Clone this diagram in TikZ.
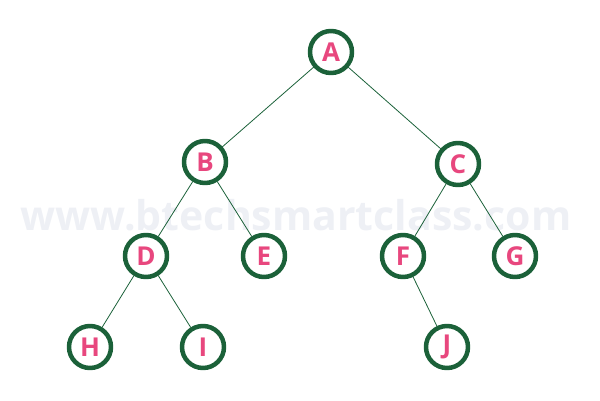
\documentclass[tikz,border=0pt]{standalone}
\usepackage{fontspec}
\setmainfont{Open Sans}
\definecolor{treegreen}{HTML}{1B6139}
\definecolor{treepink}{HTML}{E8477E}
\definecolor{markgray}{HTML}{EEF0F5}
\begin{document}
\begin{tikzpicture}[x=1pt,y=-1pt,line join = round, line cap = round,
		vertex/.style={circle,draw=treegreen,line width=4.5pt,minimum size=42pt,inner sep=0pt,fill=white,text=treepink,font=\fontsize{26}{26}\selectfont\bfseries},
		edge/.style={draw=treegreen,line width=0.8pt}]
			\useasboundingbox (0,0) rectangle (600,400);
			\node[text=markgray,font=\fontsize{41}{41}\selectfont\bfseries] (mark) at (296,215) {www.btechsmartclass.com};
			\node[vertex] (A) at (331,52) {A};
			\node[vertex] (B) at (205,162) {B};
			\node[vertex] (C) at (458,164) {C};
			\node[vertex] (D) at (146,256) {D};
			\node[vertex] (E) at (264,256) {E};
			\node[vertex] (F) at (403,256) {F};
			\node[vertex] (G) at (515,256) {G};
			\node[vertex] (H) at (90,347) {H};
			\node[vertex] (I) at (203,347) {I};
			\node[vertex] (J) at (447,347) {J};
			\foreach \a/\b in {A/B,A/C,B/D,B/E,C/F,C/G,D/H,D/I,F/J}
			{
				\draw[edge] (\a) -- (\b);
			}
		\end{tikzpicture}
\end{document}
